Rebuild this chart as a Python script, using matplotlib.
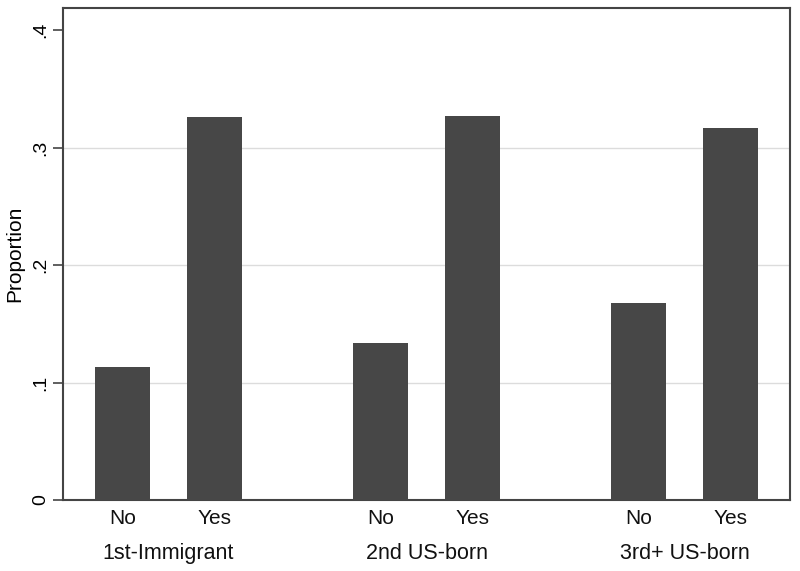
import numpy as np
import matplotlib.pyplot as plt

plt.rcParams['font.family'] = ['Liberation Sans', 'DejaVu Sans']

# data
groups = ['1st-Immigrant', '2nd US-born', '3rd+ US-born']
answers = ['No', 'Yes']
no_vals = [0.113, 0.134, 0.168]
yes_vals = [0.326, 0.327, 0.317]
yticks = [0, 0.1, 0.2, 0.3, 0.4]
ytick_labels = ['0', '.1', '.2', '.3', '.4']

fig = plt.figure(figsize=(8, 5.71), dpi=100)
ax = fig.add_axes([0.07875, 0.1243, 0.90875, 0.8616])

# positions in "pixel-like" units
group_step = 258
offset = 46
width = 55
centers = 168.5 + group_step * np.arange(len(groups))

bar_color = '#474747'
ax.bar(centers - offset, no_vals, width=width, color=bar_color, zorder=3)
ax.bar(centers + offset, yes_vals, width=width, color=bar_color, zorder=3)

ax.set_xlim(63, 790)
ax.set_ylim(0, 0.4187)

for y in [0.1, 0.2, 0.3]:
    ax.axhline(y, color='#dcdcdc', lw=1.0, zorder=1)

ax.set_yticks(yticks)
ax.set_yticklabels(ytick_labels, rotation=90, va='center', fontsize=14)
ax.tick_params(axis='y', length=7, width=1.2, color='#444444', pad=3)
ax.set_ylabel('Proportion', fontsize=15, labelpad=6)

ax.set_xticks([])
for c, g in zip(centers, groups):
    ax.text(c - offset, -0.0155, answers[0], ha='center', va='center', fontsize=15,
            color='#111111')
    ax.text(c + offset, -0.0155, answers[1], ha='center', va='center', fontsize=15,
            color='#111111')
    ax.text(c, -0.0455, g, ha='center', va='center', fontsize=15.5,
            color='#111111')

for s in ax.spines.values():
    s.set_color('#444444')
    s.set_linewidth(1.5)

fig.savefig('out.png', dpi=100)
